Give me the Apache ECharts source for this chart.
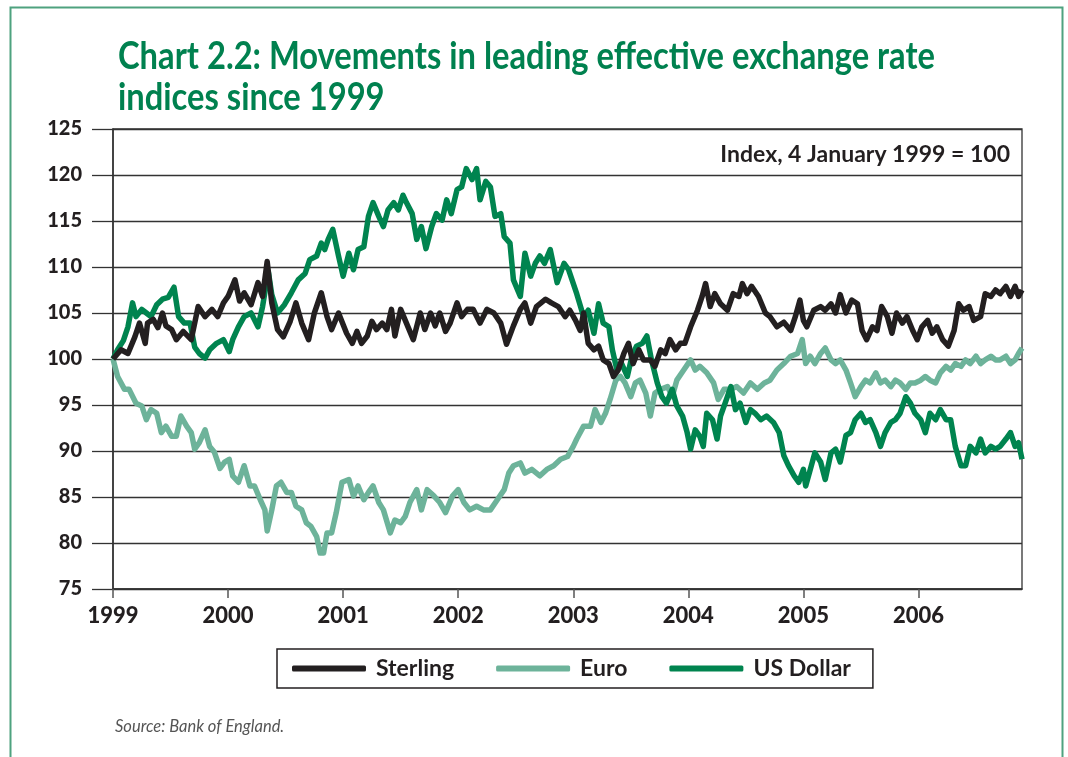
<!DOCTYPE html>
<html>
<head>
<meta charset="utf-8">
<title>Chart 2.2</title>
<script src="https://cdn.jsdelivr.net/npm/echarts@6/dist/echarts.min.js"></script>
<style>
  html, body { margin: 0; padding: 0; background: #fff; }
  #main { width: 1068px; height: 757px; }
</style>
</head>
<body>
<div id="main"></div>
<script>
// values: [decimal year, index]
var yearTicks = [1999, 2000, 2001, 2002, 2003, 2004, 2005, 2006];

var sterling = [
  [1999.00,100],[1999.07,101],[1999.13,100.6],[1999.19,102.4],[1999.23,103.9],[1999.28,101.7],[1999.30,103.9],[1999.35,104.3],
  [1999.39,103.4],[1999.43,105.0],[1999.46,103.6],[1999.51,103.2],[1999.55,102.1],[1999.61,103],[1999.68,102.1],[1999.74,105.7],
  [1999.80,104.6],[1999.86,105.4],[1999.91,104.6],[1999.96,106.1],[2000.00,106.8],[2000.06,108.6],[2000.10,106.3],[2000.14,107.2],
  [2000.20,105.9],[2000.26,108.3],[2000.30,106.8],[2000.34,110.6],[2000.38,106.1],[2000.43,103.2],[2000.48,102.4],[2000.54,104.1],
  [2000.59,106.1],[2000.64,103.9],[2000.70,102.1],[2000.75,105],[2000.81,107.2],[2000.86,104.6],[2000.90,103.2],[2000.96,105],
  [2001.03,102.8],[2001.08,101.7],[2001.12,103],[2001.16,101.7],[2001.21,102.5],[2001.25,104.1],[2001.29,103.2],[2001.34,103.9],
  [2001.38,103.2],[2001.42,105.4],[2001.45,102.5],[2001.50,105.4],[2001.55,103.9],[2001.61,102.1],[2001.67,105],[2001.71,103.2],
  [2001.76,105],[2001.80,103.6],[2001.84,105],[2001.89,103],[2001.93,103.9],[2001.99,106.1],[2002.03,104.6],[2002.08,105.4],
  [2002.13,105.4],[2002.19,103.9],[2002.25,105.4],[2002.31,105],[2002.37,103.9],[2002.42,101.6],[2002.48,103.6],[2002.54,105.4],
  [2002.58,106.1],[2002.63,103.9],[2002.68,105.7],[2002.76,106.5],[2002.81,106.1],[2002.87,105.7],[2002.93,104.6],[2002.97,105.3],
  [2003.02,104.2],[2003.06,103.1],[2003.09,105],[2003.13,101.7],[2003.18,101],[2003.22,101.4],[2003.26,99.9],[2003.31,99.5],
  [2003.35,98.1],[2003.39,98.8],[2003.44,100.6],[2003.48,101.7],[2003.52,99.5],[2003.57,101],[2003.61,99.9],[2003.67,99.9],
  [2003.71,99.2],[2003.76,101],[2003.80,100.6],[2003.84,102.1],[2003.89,101],[2003.93,101.7],[2003.97,101.7],[2004.02,103.5],
  [2004.08,105.3],[2004.12,106.8],[2004.15,108.2],[2004.19,105.7],[2004.23,107.1],[2004.28,106],[2004.34,105.3],[2004.39,107.1],
  [2004.44,106.8],[2004.47,108.2],[2004.51,107.1],[2004.55,107.9],[2004.61,106.8],[2004.67,105],[2004.71,104.6],[2004.77,103.5],
  [2004.83,104],[2004.89,103.1],[2004.93,104.6],[2004.97,106.4],[2005.00,104.2],[2005.03,103.5],[2005.09,105.3],[2005.15,105.7],
  [2005.19,105.3],[2005.24,106],[2005.28,105],[2005.32,107],[2005.37,105],[2005.42,106.4],[2005.47,106],[2005.51,103.1],
  [2005.55,102.1],[2005.60,103.5],[2005.64,103.1],[2005.68,105.7],[2005.73,104.6],[2005.77,102.8],[2005.81,105],[2005.86,103.9],
  [2005.90,104.6],[2005.95,103.1],[2005.99,102.1],[2006.03,103.5],[2006.08,104.2],[2006.12,102.8],[2006.16,103.5],[2006.21,102.1],
  [2006.26,101.4],[2006.31,103.1],[2006.35,106],[2006.39,105.3],[2006.44,105.7],[2006.48,104.2],[2006.54,104.6],[2006.58,107.1],
  [2006.63,106.8],[2006.67,107.5],[2006.71,107.1],[2006.76,107.9],[2006.80,106.8],[2006.84,107.9],[2006.87,106.8],[2006.90,107.5]
];

var euro = [
  [1999.00,100],[1999.04,98.1],[1999.10,96.7],[1999.14,96.7],[1999.20,95.2],[1999.25,94.9],[1999.29,93.4],[1999.33,94.5],
  [1999.38,94.1],[1999.42,92],[1999.46,92.7],[1999.51,91.6],[1999.55,91.6],[1999.59,93.8],[1999.64,92.7],[1999.68,92],
  [1999.71,90.2],[1999.75,90.9],[1999.80,92.3],[1999.84,90.5],[1999.88,89.9],[1999.93,88.1],[1999.97,88.8],[2000.01,89.1],
  [2000.04,87.3],[2000.09,86.6],[2000.14,88.4],[2000.19,86.2],[2000.23,86.2],[2000.28,84.7],[2000.32,83.6],[2000.34,81.3],
  [2000.38,83.6],[2000.42,86.2],[2000.46,86.6],[2000.51,85.5],[2000.55,85.5],[2000.59,84],[2000.64,83.6],[2000.68,82.2],
  [2000.72,81.8],[2000.77,80.7],[2000.80,78.9],[2000.83,78.9],[2000.86,81.1],[2000.90,81.1],[2000.94,83.3],[2000.99,86.6],
  [2001.05,86.9],[2001.09,85.1],[2001.13,86.2],[2001.18,84.7],[2001.22,85.5],[2001.26,86.2],[2001.31,84.4],[2001.35,83.6],
  [2001.41,81.1],[2001.45,82.5],[2001.50,82.2],[2001.54,82.9],[2001.58,84.4],[2001.64,85.8],[2001.68,83.6],[2001.73,85.8],
  [2001.79,85.1],[2001.84,84.4],[2001.89,83.3],[2001.95,85.1],[2002.00,85.8],[2002.05,84.4],[2002.10,83.6],[2002.16,84],
  [2002.22,83.6],[2002.28,83.6],[2002.34,84.7],[2002.40,85.8],[2002.44,87.6],[2002.48,88.4],[2002.54,88.7],[2002.58,87.6],
  [2002.64,88],[2002.71,87.3],[2002.77,88],[2002.83,88.4],[2002.89,89.1],[2002.95,89.4],[2003.00,90.5],[2003.03,91.3],
  [2003.09,92.7],[2003.15,92.7],[2003.19,94.5],[2003.24,93.1],[2003.28,94.1],[2003.32,95.6],[2003.37,97.7],[2003.41,98.1],
  [2003.45,97.4],[2003.50,95.9],[2003.54,97.4],[2003.58,97.7],[2003.63,96.3],[2003.67,93.8],[2003.71,96.3],[2003.76,96.7],
  [2003.82,97],[2003.86,95.9],[2003.90,97.7],[2003.96,98.8],[2004.02,99.9],[2004.06,98.8],[2004.10,99.2],[2004.16,98.5],
  [2004.22,97.4],[2004.26,95.6],[2004.31,96.7],[2004.37,96.7],[2004.42,97],[2004.48,96.3],[2004.54,97.4],[2004.60,96.7],
  [2004.66,97.4],[2004.71,97.7],[2004.77,98.8],[2004.83,99.5],[2004.89,100.3],[2004.95,100.6],[2004.99,102.1],[2005.02,99.5],
  [2005.06,100.3],[2005.10,99.5],[2005.15,100.6],[2005.19,101.2],[2005.24,99.9],[2005.28,99.5],[2005.32,99.9],[2005.37,98.8],
  [2005.41,97.4],[2005.45,95.9],[2005.50,97],[2005.54,97.7],[2005.58,97.4],[2005.63,98.5],[2005.67,97.4],[2005.71,97.7],
  [2005.76,97],[2005.80,97.7],[2005.84,97.4],[2005.89,96.7],[2005.93,97.4],[2005.97,97.4],[2006.02,97.7],[2006.06,98.1],
  [2006.10,97.7],[2006.15,97.4],[2006.19,98.5],[2006.24,99.2],[2006.28,98.8],[2006.32,99.5],[2006.37,99.2],[2006.41,99.9],
  [2006.45,99.5],[2006.50,100.3],[2006.54,99.5],[2006.58,99.9],[2006.63,100.3],[2006.67,99.9],[2006.71,99.9],[2006.76,100.3],
  [2006.80,99.5],[2006.84,99.9],[2006.87,100.6],[2006.90,101.2]
];

var usDollar = [
  [1999.00,100],[1999.04,101],[1999.09,102],[1999.13,103.5],[1999.17,106.1],[1999.20,104.6],[1999.25,105.4],[1999.29,105],
  [1999.33,104.6],[1999.38,105.9],[1999.43,106.5],[1999.48,106.7],[1999.53,107.8],[1999.57,104.6],[1999.62,103.9],[1999.67,103.9],
  [1999.71,101.3],[1999.75,100.6],[1999.80,100.1],[1999.84,101],[1999.90,101.7],[1999.96,102.1],[2000.01,100.8],[2000.04,102.1],
  [2000.09,103.5],[2000.14,104.6],[2000.20,105],[2000.26,103.5],[2000.30,105.7],[2000.35,109.5],[2000.38,107],[2000.43,105],
  [2000.49,105.9],[2000.55,107.2],[2000.61,108.6],[2000.67,109.3],[2000.71,110.8],[2000.77,111.2],[2000.81,112.6],[2000.84,111.9],
  [2000.87,113],[2000.91,114.1],[2000.96,111.2],[2001.00,109],[2001.05,111.5],[2001.09,109.7],[2001.13,111.9],[2001.18,112.2],
  [2001.22,115.5],[2001.26,117],[2001.31,115.5],[2001.35,114.4],[2001.39,116.2],[2001.44,117],[2001.48,116.2],[2001.52,117.8],
  [2001.55,117],[2001.60,115.8],[2001.64,113],[2001.68,114.4],[2001.72,112],[2001.77,114.4],[2001.81,115.8],[2001.86,115.1],
  [2001.90,117.3],[2001.94,115.8],[2001.99,118.4],[2002.03,118.7],[2002.07,120.7],[2002.12,119.5],[2002.16,120.7],[2002.19,117.3],
  [2002.24,119.3],[2002.28,118.7],[2002.32,115.5],[2002.37,115.8],[2002.40,113.3],[2002.45,112.6],[2002.48,108.6],[2002.54,106.8],
  [2002.58,111.5],[2002.63,109],[2002.67,110.4],[2002.71,111.2],[2002.75,110.4],[2002.80,111.9],[2002.86,108.3],[2002.92,110.4],
  [2002.96,109.7],[2003.03,107.1],[2003.09,104.6],[2003.13,105.3],[2003.18,102.8],[2003.22,106],[2003.26,103.9],[2003.31,103.5],
  [2003.34,101],[2003.38,98.8],[2003.42,99.5],[2003.47,98.1],[2003.51,100.3],[2003.55,101.4],[2003.60,101.7],[2003.64,102.5],
  [2003.68,99.9],[2003.73,97.4],[2003.77,95.9],[2003.81,95.2],[2003.86,96.7],[2003.90,94.9],[2003.95,93.8],[2003.99,92],
  [2004.02,90.2],[2004.06,92.3],[2004.10,91.6],[2004.13,90.5],[2004.16,94.1],[2004.21,93.4],[2004.25,91.3],[2004.28,93.8],
  [2004.32,95.2],[2004.37,97],[2004.41,94.5],[2004.45,95.2],[2004.50,93.1],[2004.54,94.5],[2004.58,94.1],[2004.63,93.4],
  [2004.68,93.8],[2004.74,93.1],[2004.79,92],[2004.83,89.5],[2004.87,88.4],[2004.92,87.3],[2004.96,86.6],[2005.00,88],
  [2005.02,86.2],[2005.06,88],[2005.10,89.8],[2005.15,88.8],[2005.19,86.9],[2005.24,89.8],[2005.28,90.2],[2005.32,88.8],
  [2005.37,91.7],[2005.41,92],[2005.45,93.4],[2005.50,94.1],[2005.54,93.1],[2005.58,93.4],[2005.63,92],[2005.67,90.5],
  [2005.71,92],[2005.76,93.1],[2005.80,93.4],[2005.84,94.1],[2005.89,95.9],[2005.93,95.2],[2005.97,94.1],[2006.02,93.4],
  [2006.06,92],[2006.10,94.1],[2006.15,93.4],[2006.19,94.5],[2006.24,93.4],[2006.28,93.4],[2006.32,90.5],[2006.37,88.4],
  [2006.41,88.4],[2006.45,90.5],[2006.50,89.8],[2006.54,91.3],[2006.58,89.8],[2006.63,90.5],[2006.67,90.2],[2006.71,90.5],
  [2006.76,91.3],[2006.80,92],[2006.84,90.5],[2006.87,90.9],[2006.90,89.1]
];

var FONT = 'Lato, "Open Sans", sans-serif';
var INK = '#231f20';
var chart = echarts.init(document.getElementById('main'));

chart.setOption({
  animation: false,
  backgroundColor: '#fff',
  grid: {
    left: 113, right: 46, top: 129, bottom: 168,
    show: true, borderColor: '#333', borderWidth: 1.3
  },
  xAxis: {
    type: 'value',
    min: 1999, max: 2006.9,
    splitLine: { show: false },
    axisLine: { lineStyle: { color: '#333', width: 1.5 } },
    axisTick: { customValues: yearTicks, length: 9, lineStyle: { color: '#555', width: 1.5 } },
    axisLabel: {
      customValues: yearTicks,
      formatter: function (v) { return String(Math.round(v)); },
      color: INK, fontFamily: FONT, fontWeight: 900, fontSize: 22, margin: 16
    }
  },
  yAxis: {
    type: 'value',
    min: 75, max: 125, interval: 5,
    splitLine: { lineStyle: { color: '#333', width: 1.3 } },
    axisLine: { show: true, lineStyle: { color: '#333', width: 1.5 } },
    axisTick: { show: true, length: 21, lineStyle: { color: '#333', width: 1.3 } },
    axisLabel: { color: INK, fontFamily: FONT, fontWeight: 900, fontSize: 20, margin: 31 }
  },
  legend: {
    left: 277, top: 649,
    padding: [8, 22, 8, 15],
    borderColor: INK, borderWidth: 1.5,
    itemGap: 42, itemWidth: 74, itemHeight: 6,
    icon: 'roundRect',
    textStyle: { color: INK, fontFamily: FONT, fontWeight: 'bold', fontSize: 23, padding: [0, 0, 0, 5] },
    data: ['Sterling', 'Euro', 'US Dollar']
  },
  graphic: [
    { type: 'rect', left: 8, top: 5, shape: { width: 1052, height: 800 },
      style: { fill: 'none', stroke: '#4ea27f', lineWidth: 2 }, silent: true },
    { type: 'text', x: 118, y: 57, scaleX: 0.86,
      style: { text: 'Chart 2.2: Movements in leading effective exchange rate', fill: '#00814f',
        font: 'bold 38px ' + FONT, textAlign: 'left', textVerticalAlign: 'middle' } },
    { type: 'text', x: 118, y: 98, scaleX: 0.86,
      style: { text: 'indices since 1999', fill: '#00814f',
        font: 'bold 38px ' + FONT, textAlign: 'left', textVerticalAlign: 'middle' } },
    { type: 'text', x: 1010, y: 155,
      style: { text: 'Index, 4 January 1999 = 100', fill: INK,
        font: 'bold 23px ' + FONT, textAlign: 'right', textVerticalAlign: 'middle' } },
    { type: 'text', x: 115, y: 727,
      style: { text: 'Source: Bank of England.', fill: '#555',
        font: 'italic 16.5px ' + FONT, textAlign: 'left', textVerticalAlign: 'middle' } }
  ],
  series: [
    { name: 'Sterling', type: 'line', data: sterling, showSymbol: false, z: 4,
      itemStyle: { color: INK }, lineStyle: { color: INK, width: 5.5, join: 'round' } },
    { name: 'Euro', type: 'line', data: euro, showSymbol: false, z: 2,
      itemStyle: { color: '#6db39a' }, lineStyle: { color: '#6db39a', width: 5.5, join: 'round' } },
    { name: 'US Dollar', type: 'line', data: usDollar, showSymbol: false, z: 3,
      itemStyle: { color: '#00844f' }, lineStyle: { color: '#00844f', width: 5.5, join: 'round' } }
  ]
});
</script>
</body>
</html>
